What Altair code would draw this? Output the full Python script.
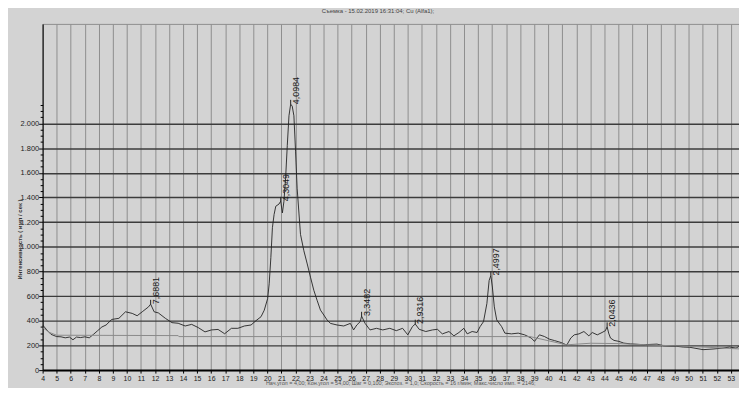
import altair as alt
import pandas as pd

# ---- data ----
two_theta = [4.0, 4.3, 4.6, 5.0, 5.31, 5.61, 5.91, 6.16, 6.41, 6.71, 7.01, 7.32, 7.62, 7.92,
             8.22, 8.52, 8.92, 9.43, 9.9, 10.38, 10.73, 11.09, 11.54, 11.69, 11.94, 12.24,
             12.74, 13.21, 13.65, 14.15, 14.61, 15.08, 15.56, 16.02, 16.49, 16.96, 17.44,
             17.9, 18.37, 18.84, 19.19, 19.55, 19.78, 20.02, 20.13, 20.25, 20.36, 20.48,
             20.6, 20.83, 20.95, 21.07, 21.18, 21.3, 21.42, 21.54, 21.66, 21.77, 21.89,
             22.01, 22.12, 22.36, 22.6, 22.84, 23.07, 23.31, 23.54, 23.78, 24.02, 24.25,
             24.49, 24.96, 25.44, 25.91, 26.14, 26.37, 26.61, 26.71, 26.96, 27.31, 27.77,
             28.22, 28.72, 29.18, 29.63, 30.0, 30.33, 30.53, 30.81, 31.28, 31.75, 32.11,
             32.46, 32.93, 33.28, 33.64, 33.99, 34.23, 34.58, 34.93, 35.15, 35.39, 35.63,
             35.79, 35.91, 36.02, 36.16, 36.33, 36.68, 36.91, 37.38, 37.86, 38.32, 38.79,
             39.02, 39.37, 39.72, 40.08, 40.43, 40.9, 41.32, 41.6, 41.85, 42.19, 42.54,
             42.89, 43.13, 43.49, 43.83, 44.07, 44.19, 44.3, 44.43, 44.68, 45.03, 45.38,
             45.85, 46.8, 47.74, 48.21, 49.14, 49.61, 50.08, 51.02, 51.73, 52.44, 52.91,
             53.37, 53.6]
intensity = [366, 326, 290, 272, 270, 262, 268, 246, 268, 264, 270, 262, 290, 320,
             350, 366, 411, 420, 473, 460, 441, 473, 513, 535, 473, 464,
             420, 385, 380, 358, 371, 345, 310, 326, 330, 295, 339,
             339, 358, 366, 401, 433, 486, 580, 700, 914, 1155, 1262,
             1329, 1347, 1370, 1275, 1369, 1556, 1823, 2063, 2157, 2141, 2063,
             1770, 1476, 1101, 968, 861, 754, 647, 567, 487, 447, 407,
             379, 366, 358, 379, 326, 366, 393, 438, 379, 326, 339,
             326, 339, 320, 339, 286, 353, 374, 331, 313, 326, 331,
             294, 313, 278, 305, 339, 294, 313, 305, 353, 393, 540,
             727, 767, 674, 513, 407, 353, 300, 294, 300, 286, 260,
             233, 286, 273, 251, 240, 224, 203, 260, 286, 294, 313,
             278, 305, 286, 305, 320, 352, 300, 260, 241, 233, 219,
             213, 206, 211, 198, 193, 187, 185, 166, 171, 179, 187,
             179, 193]

bg_theta = [4.0, 4.5, 5.0, 13.65, 13.7, 38.7, 41.3, 43.0, 45.0, 47.0, 50.0, 53.6]
bg_value = [345, 305, 283, 280, 272, 272, 205, 218, 215, 205, 193, 172]

peak_theta = [11.69, 20.95, 21.66, 26.71, 30.53, 35.91, 44.19]
peak_value = [535, 1370, 2157, 438, 374, 767, 352]
peak_label = ["7,6881", "4,3049", "4,0984", "3,3482", "2,9316", "2,4997", "2,0436"]

x_ticks = list(range(4, 54))
y_ticks = list(range(0, 2151, 50))

title_text = "Съемка - 15.02.2019 16:31:04;   Cu (Alfa1);"
footer_text = ("Нач.угол = 4,00;  Кон.угол = 54,00;  Шаг = 0,100;  Экспоз. = 1,0;  "
               "Скорость = 16 г/мин;  Макс.число имп. = 2146;")
y_title = "Интенсивность ( имп / сек )"

# ---- tables ----
curve = pd.DataFrame({"x": two_theta, "y": intensity})
bg = pd.DataFrame({"x": bg_theta, "y": bg_value})
peaks = pd.DataFrame({"x": peak_theta, "y": peak_value, "label": peak_label})
peaks["y2"] = peaks["y"] + 35

NARROW = "Liberation Sans Narrow, Arial Narrow, Liberation Sans, Arial"
SANS = "Liberation Sans, Arial"

W, H = 704, 350
xscale = alt.Scale(domain=[4, 53.58], nice=False, zero=False)
yscale = alt.Scale(domain=[0, 2808], nice=False, zero=True)

x_axis = alt.Axis(values=x_ticks, format="d", title=None, grid=True,
                  gridColor="#8e8e8e", gridWidth=1,
                  domainColor="#000000", domainWidth=2,
                  tickColor="#000000", tickSize=3, tickWidth=1,
                  labelFont=NARROW, labelFontSize=7, labelColor="#222222",
                  labelPadding=1, labelOverlap=False, labelFlush=False)

y_axis = alt.Axis(values=y_ticks, title=None,
                  labelExpr="(datum.value % 200 == 0 && datum.value <= 2000) ? replace(format(datum.value, ',d'), ',', '.') : ''",
                  grid=True, gridColor="#3c3c3c", gridWidth=1.4,
                  gridOpacity={"condition": {"test": "datum.value % 200 == 0 && datum.value > 0 && datum.value <= 2000", "value": 1}, "value": 0},
                  tickSize={"condition": {"test": "datum.value % 200 == 0", "value": 4}, "value": 2.5},
                  tickColor="#000000", tickWidth=1,
                  domainColor="#000000", domainWidth=1,
                  labelFont=NARROW, labelFontSize=7.5, labelColor="#222222",
                  labelPadding=0, labelOverlap=False, labelFlush=False)

X = alt.X("x:Q", scale=xscale, axis=x_axis)
Y = alt.Y("y:Q", scale=yscale, axis=y_axis)

line = alt.Chart(curve).mark_line(color="#222222", strokeWidth=0.9, clip=True).encode(
    x=X, y=Y, order="x:Q",
)

bg_line = alt.Chart(bg).mark_line(color="#8a8a8a", strokeWidth=1, clip=True).encode(
    x=X, y=Y, order="x:Q"
)

markers = alt.Chart(peaks).mark_rule(color="#222222", strokeWidth=1).encode(
    x=X, y=Y, y2="y2:Q"
)

labels = alt.Chart(peaks).mark_text(angle=270, align="left", baseline="middle",
                                    dx=0, dy=5, font=NARROW, fontSize=9,
                                    color="#1a1a1a").encode(
    x=X, y=Y, text="label:N"
)

title = alt.Chart(pd.DataFrame({"t": [title_text]})).mark_text(
    align="center", baseline="middle", font=SANS, fontSize=6, color="#444444"
).encode(x=alt.value(339), y=alt.value(-13), text="t:N")

footer = alt.Chart(pd.DataFrame({"t": [footer_text]})).mark_text(
    align="center", baseline="middle", font=SANS, fontSize=5.5, color="#555555"
).encode(x=alt.value(362), y=alt.value(363.5), text="t:N")

ytitle = alt.Chart(pd.DataFrame({"t": [y_title]})).mark_text(
    angle=270, align="center", baseline="middle", font=SANS, fontSize=6,
    fontWeight="bold", color="#333333"
).encode(x=alt.value(-23), y=alt.value(218), text="t:N")

chart = alt.layer(line, bg_line, markers, labels, title, footer, ytitle).properties(
    width=W, height=H,
    autosize=alt.AutoSizeParams(type="none"),
    padding={"left": 35, "top": 14, "right": 0, "bottom": 16},
).configure(background="#d3d3d3").configure_view(
    fill="#d3d3d3", stroke="#8e8e8e", strokeWidth=1
)

chart.save("out.html", embed_options={"renderer": "svg", "actions": False})
